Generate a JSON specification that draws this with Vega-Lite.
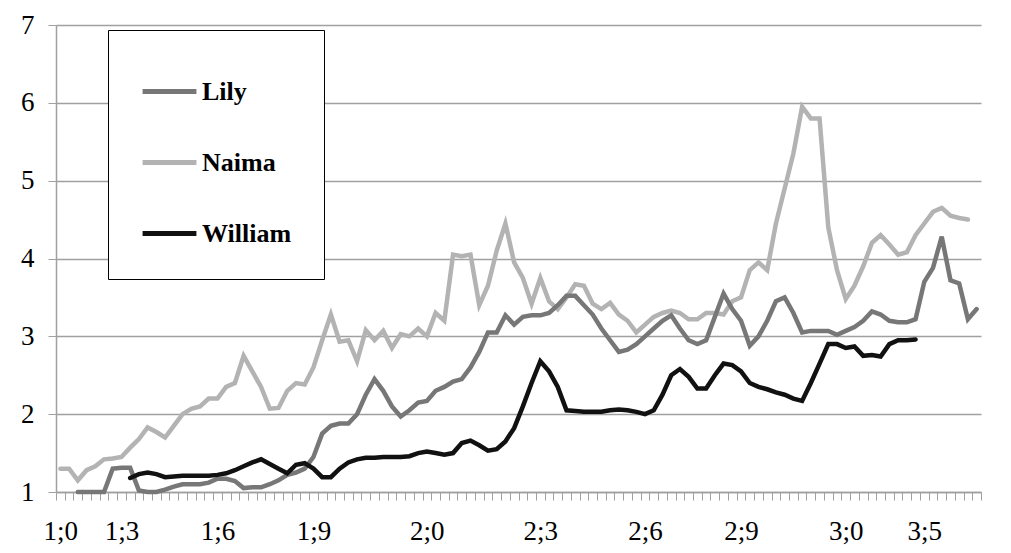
{
  "$schema": "https://vega.github.io/schema/vega-lite/v6.json",
  "width": 925,
  "height": 467,
  "autosize": "none",
  "padding": {"left": 56, "top": 25, "right": 30, "bottom": 61},
  "background": "white",
  "config": {"view": {"stroke": null}, "font": "Liberation Serif"},
  "data": {"values": [
    {"name":"Naima","i":0,"v":1.3},{"name":"Naima","i":1,"v":1.3},{"name":"Naima","i":2,"v":1.15},{"name":"Naima","i":3,"v":1.28},{"name":"Naima","i":4,"v":1.33},{"name":"Naima","i":5,"v":1.42},{"name":"Naima","i":6,"v":1.43},{"name":"Naima","i":7,"v":1.45},{"name":"Naima","i":8,"v":1.57},{"name":"Naima","i":9,"v":1.68},
    {"name":"Naima","i":10,"v":1.83},{"name":"Naima","i":11,"v":1.77},{"name":"Naima","i":12,"v":1.7},{"name":"Naima","i":13,"v":1.85},{"name":"Naima","i":14,"v":2.0},{"name":"Naima","i":15,"v":2.07},{"name":"Naima","i":16,"v":2.1},{"name":"Naima","i":17,"v":2.2},{"name":"Naima","i":18,"v":2.2},{"name":"Naima","i":19,"v":2.35},
    {"name":"Naima","i":20,"v":2.4},{"name":"Naima","i":21,"v":2.75},{"name":"Naima","i":22,"v":2.55},{"name":"Naima","i":23,"v":2.35},{"name":"Naima","i":24,"v":2.07},{"name":"Naima","i":25,"v":2.08},{"name":"Naima","i":26,"v":2.3},{"name":"Naima","i":27,"v":2.4},{"name":"Naima","i":28,"v":2.38},{"name":"Naima","i":29,"v":2.6},
    {"name":"Naima","i":30,"v":2.95},{"name":"Naima","i":31,"v":3.28},{"name":"Naima","i":32,"v":2.93},{"name":"Naima","i":33,"v":2.95},{"name":"Naima","i":34,"v":2.68},{"name":"Naima","i":35,"v":3.08},{"name":"Naima","i":36,"v":2.95},{"name":"Naima","i":37,"v":3.07},{"name":"Naima","i":38,"v":2.85},{"name":"Naima","i":39,"v":3.03},
    {"name":"Naima","i":40,"v":3.0},{"name":"Naima","i":41,"v":3.1},{"name":"Naima","i":42,"v":3.0},{"name":"Naima","i":43,"v":3.3},{"name":"Naima","i":44,"v":3.2},{"name":"Naima","i":45,"v":4.05},{"name":"Naima","i":46,"v":4.03},{"name":"Naima","i":47,"v":4.05},{"name":"Naima","i":48,"v":3.4},{"name":"Naima","i":49,"v":3.65},
    {"name":"Naima","i":50,"v":4.1},{"name":"Naima","i":51,"v":4.45},{"name":"Naima","i":52,"v":3.95},{"name":"Naima","i":53,"v":3.75},{"name":"Naima","i":54,"v":3.42},{"name":"Naima","i":55,"v":3.75},{"name":"Naima","i":56,"v":3.45},{"name":"Naima","i":57,"v":3.35},{"name":"Naima","i":58,"v":3.5},{"name":"Naima","i":59,"v":3.67},
    {"name":"Naima","i":60,"v":3.65},{"name":"Naima","i":61,"v":3.42},{"name":"Naima","i":62,"v":3.35},{"name":"Naima","i":63,"v":3.43},{"name":"Naima","i":64,"v":3.28},{"name":"Naima","i":65,"v":3.2},{"name":"Naima","i":66,"v":3.05},{"name":"Naima","i":67,"v":3.15},{"name":"Naima","i":68,"v":3.25},{"name":"Naima","i":69,"v":3.3},
    {"name":"Naima","i":70,"v":3.33},{"name":"Naima","i":71,"v":3.3},{"name":"Naima","i":72,"v":3.22},{"name":"Naima","i":73,"v":3.22},{"name":"Naima","i":74,"v":3.3},{"name":"Naima","i":75,"v":3.3},{"name":"Naima","i":76,"v":3.28},{"name":"Naima","i":77,"v":3.45},{"name":"Naima","i":78,"v":3.5},{"name":"Naima","i":79,"v":3.85},
    {"name":"Naima","i":80,"v":3.95},{"name":"Naima","i":81,"v":3.85},{"name":"Naima","i":82,"v":4.45},{"name":"Naima","i":83,"v":4.9},{"name":"Naima","i":84,"v":5.35},{"name":"Naima","i":85,"v":5.95},{"name":"Naima","i":86,"v":5.8},{"name":"Naima","i":87,"v":5.8},{"name":"Naima","i":88,"v":4.4},{"name":"Naima","i":89,"v":3.85},
    {"name":"Naima","i":90,"v":3.48},{"name":"Naima","i":91,"v":3.65},{"name":"Naima","i":92,"v":3.9},{"name":"Naima","i":93,"v":4.2},{"name":"Naima","i":94,"v":4.3},{"name":"Naima","i":95,"v":4.18},{"name":"Naima","i":96,"v":4.05},{"name":"Naima","i":97,"v":4.08},{"name":"Naima","i":98,"v":4.3},{"name":"Naima","i":99,"v":4.45},
    {"name":"Naima","i":100,"v":4.6},{"name":"Naima","i":101,"v":4.65},{"name":"Naima","i":102,"v":4.55},{"name":"Naima","i":103,"v":4.52},{"name":"Naima","i":104,"v":4.5},
    {"name":"Lily","i":2,"v":1.0},{"name":"Lily","i":3,"v":1.0},{"name":"Lily","i":4,"v":1.0},{"name":"Lily","i":5,"v":1.0},{"name":"Lily","i":6,"v":1.3},{"name":"Lily","i":7,"v":1.31},{"name":"Lily","i":8,"v":1.31},{"name":"Lily","i":9,"v":1.02},
    {"name":"Lily","i":10,"v":1.0},{"name":"Lily","i":11,"v":1.0},{"name":"Lily","i":12,"v":1.03},{"name":"Lily","i":13,"v":1.07},{"name":"Lily","i":14,"v":1.1},{"name":"Lily","i":15,"v":1.1},{"name":"Lily","i":16,"v":1.1},{"name":"Lily","i":17,"v":1.12},{"name":"Lily","i":18,"v":1.17},{"name":"Lily","i":19,"v":1.17},
    {"name":"Lily","i":20,"v":1.14},{"name":"Lily","i":21,"v":1.05},{"name":"Lily","i":22,"v":1.06},{"name":"Lily","i":23,"v":1.06},{"name":"Lily","i":24,"v":1.1},{"name":"Lily","i":25,"v":1.15},{"name":"Lily","i":26,"v":1.22},{"name":"Lily","i":27,"v":1.25},{"name":"Lily","i":28,"v":1.3},{"name":"Lily","i":29,"v":1.45},
    {"name":"Lily","i":30,"v":1.75},{"name":"Lily","i":31,"v":1.85},{"name":"Lily","i":32,"v":1.88},{"name":"Lily","i":33,"v":1.88},{"name":"Lily","i":34,"v":2.0},{"name":"Lily","i":35,"v":2.25},{"name":"Lily","i":36,"v":2.45},{"name":"Lily","i":37,"v":2.3},{"name":"Lily","i":38,"v":2.1},{"name":"Lily","i":39,"v":1.97},
    {"name":"Lily","i":40,"v":2.05},{"name":"Lily","i":41,"v":2.15},{"name":"Lily","i":42,"v":2.17},{"name":"Lily","i":43,"v":2.3},{"name":"Lily","i":44,"v":2.35},{"name":"Lily","i":45,"v":2.42},{"name":"Lily","i":46,"v":2.45},{"name":"Lily","i":47,"v":2.6},{"name":"Lily","i":48,"v":2.8},{"name":"Lily","i":49,"v":3.05},
    {"name":"Lily","i":50,"v":3.05},{"name":"Lily","i":51,"v":3.27},{"name":"Lily","i":52,"v":3.15},{"name":"Lily","i":53,"v":3.25},{"name":"Lily","i":54,"v":3.27},{"name":"Lily","i":55,"v":3.27},{"name":"Lily","i":56,"v":3.3},{"name":"Lily","i":57,"v":3.4},{"name":"Lily","i":58,"v":3.52},{"name":"Lily","i":59,"v":3.52},
    {"name":"Lily","i":60,"v":3.4},{"name":"Lily","i":61,"v":3.28},{"name":"Lily","i":62,"v":3.1},{"name":"Lily","i":63,"v":2.95},{"name":"Lily","i":64,"v":2.8},{"name":"Lily","i":65,"v":2.83},{"name":"Lily","i":66,"v":2.9},{"name":"Lily","i":67,"v":3.0},{"name":"Lily","i":68,"v":3.1},{"name":"Lily","i":69,"v":3.2},
    {"name":"Lily","i":70,"v":3.27},{"name":"Lily","i":71,"v":3.1},{"name":"Lily","i":72,"v":2.95},{"name":"Lily","i":73,"v":2.9},{"name":"Lily","i":74,"v":2.95},{"name":"Lily","i":75,"v":3.25},{"name":"Lily","i":76,"v":3.55},{"name":"Lily","i":77,"v":3.35},{"name":"Lily","i":78,"v":3.2},{"name":"Lily","i":79,"v":2.88},
    {"name":"Lily","i":80,"v":3.0},{"name":"Lily","i":81,"v":3.2},{"name":"Lily","i":82,"v":3.45},{"name":"Lily","i":83,"v":3.5},{"name":"Lily","i":84,"v":3.3},{"name":"Lily","i":85,"v":3.05},{"name":"Lily","i":86,"v":3.07},{"name":"Lily","i":87,"v":3.07},{"name":"Lily","i":88,"v":3.07},{"name":"Lily","i":89,"v":3.02},
    {"name":"Lily","i":90,"v":3.07},{"name":"Lily","i":91,"v":3.12},{"name":"Lily","i":92,"v":3.2},{"name":"Lily","i":93,"v":3.32},{"name":"Lily","i":94,"v":3.28},{"name":"Lily","i":95,"v":3.2},{"name":"Lily","i":96,"v":3.18},{"name":"Lily","i":97,"v":3.18},{"name":"Lily","i":98,"v":3.22},{"name":"Lily","i":99,"v":3.7},
    {"name":"Lily","i":100,"v":3.88},{"name":"Lily","i":101,"v":4.28},{"name":"Lily","i":102,"v":3.72},{"name":"Lily","i":103,"v":3.68},{"name":"Lily","i":104,"v":3.22},{"name":"Lily","i":105,"v":3.35},
    {"name":"William","i":8,"v":1.18},{"name":"William","i":9,"v":1.23},
    {"name":"William","i":10,"v":1.25},{"name":"William","i":11,"v":1.23},{"name":"William","i":12,"v":1.19},{"name":"William","i":13,"v":1.2},{"name":"William","i":14,"v":1.21},{"name":"William","i":15,"v":1.21},{"name":"William","i":16,"v":1.21},{"name":"William","i":17,"v":1.21},{"name":"William","i":18,"v":1.22},{"name":"William","i":19,"v":1.24},
    {"name":"William","i":20,"v":1.28},{"name":"William","i":21,"v":1.33},{"name":"William","i":22,"v":1.38},{"name":"William","i":23,"v":1.42},{"name":"William","i":24,"v":1.36},{"name":"William","i":25,"v":1.3},{"name":"William","i":26,"v":1.24},{"name":"William","i":27,"v":1.35},{"name":"William","i":28,"v":1.37},{"name":"William","i":29,"v":1.3},
    {"name":"William","i":30,"v":1.19},{"name":"William","i":31,"v":1.19},{"name":"William","i":32,"v":1.3},{"name":"William","i":33,"v":1.38},{"name":"William","i":34,"v":1.42},{"name":"William","i":35,"v":1.44},{"name":"William","i":36,"v":1.44},{"name":"William","i":37,"v":1.45},{"name":"William","i":38,"v":1.45},{"name":"William","i":39,"v":1.45},
    {"name":"William","i":40,"v":1.46},{"name":"William","i":41,"v":1.5},{"name":"William","i":42,"v":1.52},{"name":"William","i":43,"v":1.5},{"name":"William","i":44,"v":1.48},{"name":"William","i":45,"v":1.5},{"name":"William","i":46,"v":1.63},{"name":"William","i":47,"v":1.66},{"name":"William","i":48,"v":1.6},{"name":"William","i":49,"v":1.53},
    {"name":"William","i":50,"v":1.55},{"name":"William","i":51,"v":1.65},{"name":"William","i":52,"v":1.82},{"name":"William","i":53,"v":2.1},{"name":"William","i":54,"v":2.4},{"name":"William","i":55,"v":2.68},{"name":"William","i":56,"v":2.55},{"name":"William","i":57,"v":2.35},{"name":"William","i":58,"v":2.05},{"name":"William","i":59,"v":2.04},
    {"name":"William","i":60,"v":2.03},{"name":"William","i":61,"v":2.03},{"name":"William","i":62,"v":2.03},{"name":"William","i":63,"v":2.05},{"name":"William","i":64,"v":2.06},{"name":"William","i":65,"v":2.05},{"name":"William","i":66,"v":2.03},{"name":"William","i":67,"v":2.0},{"name":"William","i":68,"v":2.05},{"name":"William","i":69,"v":2.25},
    {"name":"William","i":70,"v":2.5},{"name":"William","i":71,"v":2.58},{"name":"William","i":72,"v":2.48},{"name":"William","i":73,"v":2.33},{"name":"William","i":74,"v":2.33},{"name":"William","i":75,"v":2.5},{"name":"William","i":76,"v":2.65},{"name":"William","i":77,"v":2.63},{"name":"William","i":78,"v":2.55},{"name":"William","i":79,"v":2.4},
    {"name":"William","i":80,"v":2.35},{"name":"William","i":81,"v":2.32},{"name":"William","i":82,"v":2.28},{"name":"William","i":83,"v":2.25},{"name":"William","i":84,"v":2.2},{"name":"William","i":85,"v":2.17},{"name":"William","i":86,"v":2.4},{"name":"William","i":87,"v":2.65},{"name":"William","i":88,"v":2.9},{"name":"William","i":89,"v":2.9},
    {"name":"William","i":90,"v":2.85},{"name":"William","i":91,"v":2.87},{"name":"William","i":92,"v":2.75},{"name":"William","i":93,"v":2.76},{"name":"William","i":94,"v":2.74},{"name":"William","i":95,"v":2.9},{"name":"William","i":96,"v":2.95},{"name":"William","i":97,"v":2.95},{"name":"William","i":98,"v":2.96}
  ]},
  "mark": {"type": "line", "strokeWidth": 4.5, "strokeJoin": "miter", "strokeCap": "round"},
  "encoding": {
    "x": {
      "field": "i", "type": "ordinal",
      "scale": {"type": "band", "paddingInner": 0, "paddingOuter": 0},
      "axis": {
        "title": null, "labelAngle": 0, "tickBand": "extent", "grid": false,
        "labelOverlap": false, "labelFontSize": 27, "labelColor": "black", "labelPadding": 18,
        "domainColor": "#a0a0a0", "tickColor": "#a0a0a0", "tickSize": 8, "domainWidth": 1.5,
        "labelExpr": "{'0':'1;0','7':'1;3','18':'1;6','29':'1;9','42':'2;0','55':'2;3','67':'2;6','78':'2;9','90':'3;0','99':'3;5'}[datum.label] || ''"
      }
    },
    "y": {
      "field": "v", "type": "quantitative",
      "scale": {"domain": [1, 7], "nice": false, "zero": false},
      "axis": {
        "title": null, "values": [1,2,3,4,5,6,7], "labelFontSize": 27, "labelColor": "black",
        "gridColor": "#a0a0a0", "gridWidth": 1.5, "domainColor": "#a0a0a0", "domainWidth": 1.5,
        "tickColor": "#a0a0a0", "tickSize": 8, "labelPadding": 14
      }
    },
    "color": {
      "field": "name", "type": "nominal",
      "scale": {"domain": ["Lily", "Naima", "William"], "range": ["#777777", "#b3b3b3", "#111111"]},
      "legend": {
        "title": null, "orient": "none", "legendX": 52, "legendY": 5, "fillColor": "white",
        "symbolType": "stroke", "symbolSize": 2900, "symbolStrokeWidth": 5,
        "labelFontSize": 26, "labelFontWeight": "bold", "labelColor": "black",
        "strokeColor": "black", "padding": 32, "rowPadding": 28, "labelOffset": 3
      }
    }
  }
}
